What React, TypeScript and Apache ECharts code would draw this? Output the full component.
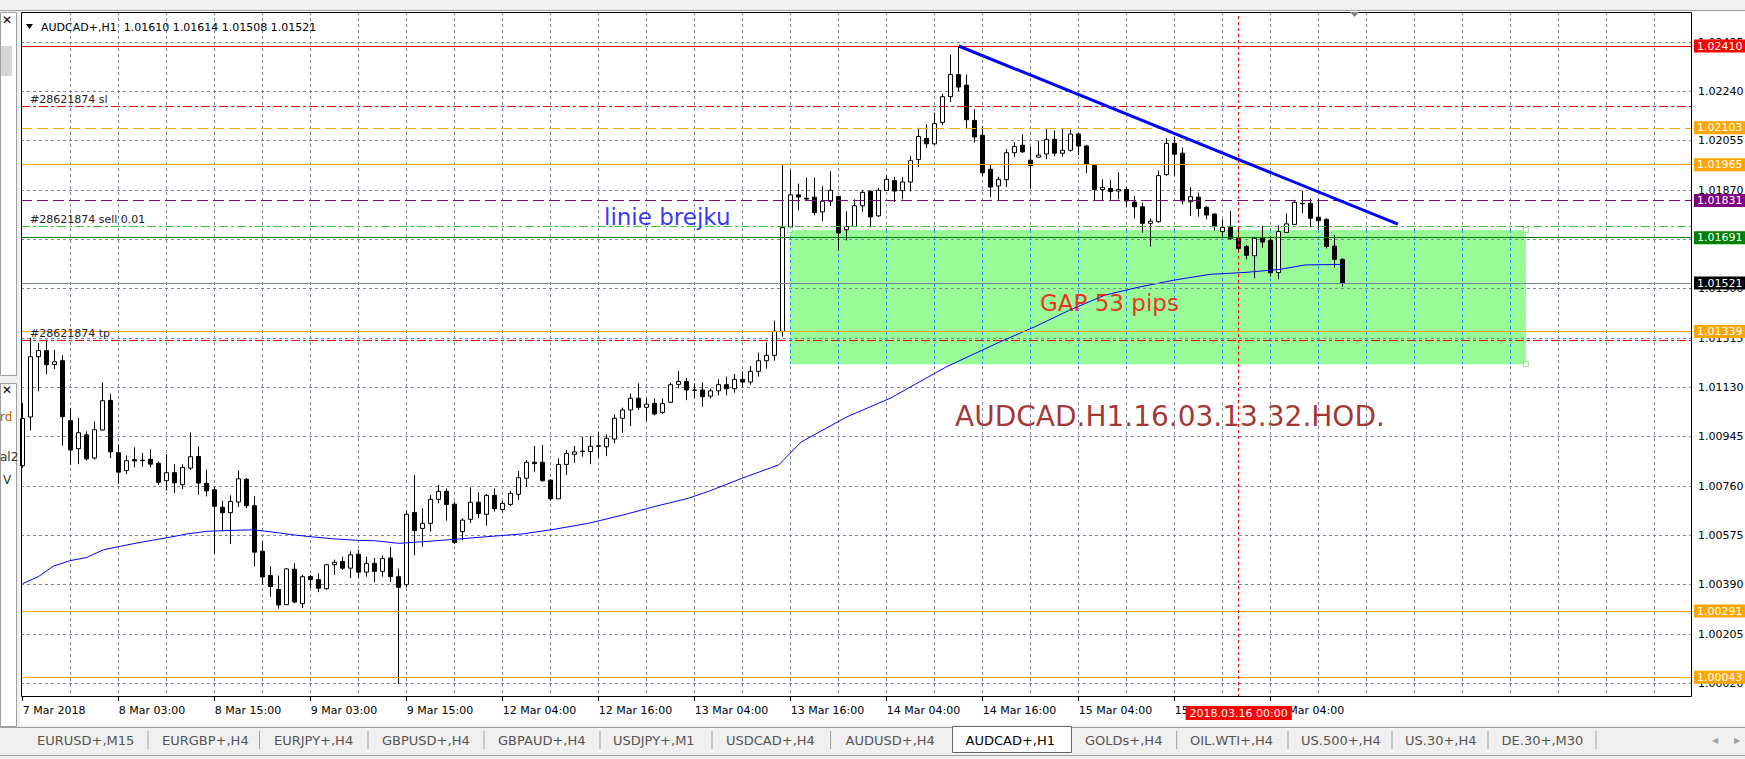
import React, { useEffect, useRef } from "react";
import * as echarts from "echarts";

const FONT = "DejaVu Sans";

// H1 bars [open, high, low, close], first visible bar = 7 Mar 2018 15:00
const barsMar7to9: number[][] = [
  [1.00836, 1.01071, 1.00828, 1.01013], [1.01019, 1.01315, 1.00968, 1.01245], [1.01245, 1.01296, 1.01115, 1.01268],
  [1.01268, 1.01309, 1.0118, 1.01215], [1.01216, 1.01271, 1.01199, 1.01226], [1.0123, 1.0125, 1.00911, 1.0102],
  [1.01005, 1.0105, 1.00839, 1.00895], [1.009, 1.01015, 1.00842, 1.0096], [1.00952, 1.00965, 1.00855, 1.00862],
  [1.00865, 1.01002, 1.00859, 1.00971], [1.0097, 1.01149, 1.00968, 1.0108], [1.01081, 1.01106, 1.00865, 1.00888],
  [1.00885, 1.00915, 1.00768, 1.00812], [1.00818, 1.00875, 1.00805, 1.00855], [1.00859, 1.00905, 1.0083, 1.00854],
  [1.00857, 1.00884, 1.00832, 1.00855], [1.0086, 1.00898, 1.0083, 1.00842], [1.00845, 1.00852, 1.00764, 1.00774],
  [1.0078, 1.0088, 1.00743, 1.0081], [1.0081, 1.00841, 1.00734, 1.00772], [1.00765, 1.00841, 1.00749, 1.0083],
  [1.00827, 1.00961, 1.0082, 1.0087], [1.00871, 1.00909, 1.00727, 1.00771], [1.0077, 1.00821, 1.00721, 1.00742],
  [1.00746, 1.00756, 1.00506, 1.00684], [1.0068, 1.00705, 1.0059, 1.0066], [1.0066, 1.00725, 1.00543, 1.00702],
  [1.007, 1.00819, 1.00681, 1.00787], [1.00785, 1.0079, 1.00677, 1.00686], [1.00686, 1.00721, 1.00459, 1.00512],
  [1.00515, 1.00552, 1.0039, 1.00419], [1.00424, 1.00459, 1.00345, 1.00383], [1.00372, 1.00424, 1.003, 1.00314],
  [1.00315, 1.00452, 1.00315, 1.00449], [1.00448, 1.0047, 1.0032, 1.00325], [1.00319, 1.00427, 1.00302, 1.0042],
  [1.00421, 1.00427, 1.00377, 1.00409], [1.00409, 1.00432, 1.00362, 1.00377], [1.00375, 1.00465, 1.00371, 1.00465],
  [1.00465, 1.00484, 1.00427, 1.00474], [1.00477, 1.00495, 1.00445, 1.00452], [1.00452, 1.00515, 1.00415, 1.00502],
  [1.00504, 1.00521, 1.00415, 1.00437], [1.00437, 1.00495, 1.0042, 1.0047], [1.0047, 1.0049, 1.004, 1.0044],
  [1.0044, 1.005, 1.0042, 1.00488], [1.0049, 1.00531, 1.004, 1.0042], [1.0042, 1.0045, 1.00018, 1.0038],
];
const barsMar9to13: number[][] = [
  [1.0039, 1.0067, 1.0038, 1.00654], [1.00661, 1.00801, 1.005, 1.00593], [1.00601, 1.00676, 1.00532, 1.0062],
  [1.0062, 1.00726, 1.00589, 1.0071], [1.0071, 1.00764, 1.00695, 1.0074], [1.0074, 1.00751, 1.0063, 1.00691],
  [1.00692, 1.00701, 1.00543, 1.00548], [1.00589, 1.00639, 1.00557, 1.00632], [1.00635, 1.00755, 1.00622, 1.00699],
  [1.00699, 1.00736, 1.00639, 1.00657], [1.00654, 1.0073, 1.00611, 1.00725], [1.00725, 1.00751, 1.00664, 1.00675],
  [1.00672, 1.00705, 1.0066, 1.00695], [1.00691, 1.00742, 1.00685, 1.00732], [1.00729, 1.00816, 1.00707, 1.00791],
  [1.00789, 1.00857, 1.00757, 1.00849], [1.00849, 1.0091, 1.00814, 1.00844], [1.00849, 1.00914, 1.00776, 1.0078],
  [1.00782, 1.00785, 1.00705, 1.00712], [1.00712, 1.00864, 1.00712, 1.00841], [1.00841, 1.00895, 1.00801, 1.00882],
  [1.00879, 1.0091, 1.00847, 1.00888], [1.00889, 1.00945, 1.0087, 1.00891], [1.00889, 1.00947, 1.00842, 1.00909],
  [1.00909, 1.00964, 1.00864, 1.00911], [1.00907, 1.00954, 1.00872, 1.00939], [1.00936, 1.01029, 1.0092, 1.01014],
  [1.01014, 1.01054, 1.0096, 1.01045], [1.01045, 1.01107, 1.00985, 1.01089], [1.01089, 1.01145, 1.01045, 1.01055],
  [1.01055, 1.01089, 1.01004, 1.01067], [1.0107, 1.01089, 1.01025, 1.0103], [1.01036, 1.01089, 1.0103, 1.01069],
  [1.01074, 1.01148, 1.01072, 1.0114], [1.01141, 1.01191, 1.01126, 1.01152], [1.01152, 1.01165, 1.01082, 1.0112],
  [1.0112, 1.01145, 1.01089, 1.01119], [1.0112, 1.01149, 1.01057, 1.01095], [1.01097, 1.01126, 1.01089, 1.01117],
  [1.01117, 1.0116, 1.011, 1.0114], [1.0114, 1.0117, 1.011, 1.01125], [1.01125, 1.0118, 1.0111, 1.0116],
  [1.0116, 1.0119, 1.0113, 1.0115], [1.0115, 1.0121, 1.0114, 1.0119], [1.0119, 1.0126, 1.0117, 1.0123],
  [1.0123, 1.013, 1.012, 1.0125], [1.0125, 1.0138, 1.0123, 1.0134], [1.0134, 1.01963, 1.0132, 1.01729],
];
const barsMar13to16: number[][] = [
  [1.01729, 1.01944, 1.01719, 1.01852], [1.01852, 1.01894, 1.01794, 1.01844], [1.01839, 1.01916, 1.01831, 1.01836],
  [1.01843, 1.01916, 1.01775, 1.01785], [1.01788, 1.01884, 1.01753, 1.01828], [1.01828, 1.0194, 1.0181, 1.01869],
  [1.01846, 1.01846, 1.01644, 1.01709], [1.01721, 1.0179, 1.01681, 1.01733], [1.01733, 1.01835, 1.01731, 1.01811],
  [1.01811, 1.01869, 1.01788, 1.01861], [1.01865, 1.01869, 1.0173, 1.01769], [1.01773, 1.01878, 1.01769, 1.01869],
  [1.01868, 1.01925, 1.01866, 1.0191], [1.01905, 1.01919, 1.01825, 1.01866], [1.01868, 1.01919, 1.01835, 1.019],
  [1.019, 1.01998, 1.01865, 1.0198], [1.01984, 1.02103, 1.01956, 1.02071], [1.02063, 1.02116, 1.02028, 1.02043],
  [1.02043, 1.0216, 1.0204, 1.02119], [1.02123, 1.02231, 1.02113, 1.0222], [1.0222, 1.02378, 1.022, 1.02303],
  [1.02303, 1.0241, 1.0224, 1.02256], [1.02263, 1.02303, 1.02098, 1.02133], [1.02131, 1.02173, 1.02048, 1.02069],
  [1.02075, 1.0211, 1.01923, 1.01935], [1.01948, 1.01963, 1.01844, 1.01881], [1.01885, 1.0192, 1.01831, 1.0191],
  [1.01909, 1.02023, 1.01881, 1.0201], [1.0201, 1.0205, 1.01994, 1.02033], [1.02038, 1.02079, 1.0201, 1.02013],
  [1.01982, 1.02032, 1.01876, 1.01962], [1.01993, 1.02055, 1.01993, 1.02001], [1.02005, 1.02098, 1.01986, 1.0206],
  [1.0206, 1.02093, 1.01997, 1.02008], [1.02008, 1.02102, 1.01995, 1.02019], [1.02019, 1.02095, 1.02014, 1.0208],
  [1.0208, 1.02085, 1.02001, 1.02035], [1.02035, 1.02039, 1.01933, 1.01967], [1.01963, 1.01963, 1.01833, 1.01872],
  [1.01872, 1.0191, 1.01833, 1.0188], [1.01876, 1.01907, 1.01833, 1.01864], [1.01866, 1.01936, 1.01835, 1.01872],
  [1.01872, 1.0188, 1.01805, 1.01829], [1.01825, 1.01848, 1.01763, 1.01807], [1.01807, 1.01823, 1.0171, 1.01745],
  [1.01745, 1.01764, 1.01658, 1.01753], [1.01751, 1.01943, 1.01748, 1.01924], [1.01928, 1.02064, 1.01923, 1.02045],
  [1.02045, 1.0207, 1.01923, 1.02004], [1.02008, 1.02029, 1.01816, 1.01829], [1.01826, 1.0188, 1.01773, 1.01845],
  [1.01843, 1.0186, 1.0177, 1.01801], [1.01805, 1.0181, 1.0176, 1.01776], [1.0178, 1.01782, 1.01718, 1.01735],
  [1.01714, 1.0176, 1.01695, 1.0173], [1.01733, 1.01792, 1.01683, 1.01688], [1.01689, 1.01726, 1.01639, 1.01651],
  [1.01658, 1.01664, 1.0161, 1.01625], [1.01623, 1.01695, 1.01539, 1.01689], [1.01691, 1.01735, 1.01654, 1.01675],
  [1.01681, 1.01697, 1.01545, 1.0156], [1.0156, 1.01739, 1.01535, 1.01714], [1.01711, 1.01782, 1.0171, 1.01743],
  [1.01741, 1.01833, 1.01739, 1.01824], [1.0182, 1.01867, 1.01783, 1.01818], [1.0182, 1.01839, 1.0173, 1.01764],
  [1.01768, 1.01839, 1.0172, 1.01755], [1.0176, 1.01764, 1.01651, 1.01658], [1.0166, 1.01701, 1.01579, 1.0161],
  [1.0161, 1.01614, 1.01508, 1.01521],
];

// moving average readings [bar, price]
const maPoints: number[][] = [
  [0, 1.00394], [2, 1.00421], [3.8, 1.00459], [5.9, 1.0048], [8, 1.00492], [10.1, 1.00521], [12.2, 1.00534],
  [14.25, 1.00546], [16.3, 1.00557], [18.4, 1.00568], [20.5, 1.0058], [23, 1.0059], [25.5, 1.00593], [28.8, 1.00596],
  [31.3, 1.00587], [33.8, 1.00577], [36.3, 1.00569], [38.8, 1.00562], [42, 1.00556], [44, 1.00555], [47, 1.00545],
  [50, 1.00551], [54, 1.0056], [58, 1.0057], [62.4, 1.0058], [66.5, 1.00598], [70.7, 1.0062], [75, 1.00651],
  [79, 1.00683], [83.2, 1.00714], [86, 1.00743], [90, 1.0079], [94.5, 1.00839], [97.3, 1.00925], [103, 1.01019],
  [108.5, 1.0109], [115.4, 1.01206], [122.2, 1.01301], [126.5, 1.01357], [130.9, 1.0142], [135.3, 1.01476],
  [139.7, 1.01507], [144.1, 1.01533], [148.5, 1.01554], [152.9, 1.01561], [157.3, 1.01573], [160.3, 1.01589],
  [164.9, 1.01591],
];

const trendPoints: number[][] = [[117, 1.0241], [171.9, 1.01742]];

const priceTicks = [1.0002, 1.00205, 1.0039, 1.00575, 1.0076, 1.00945, 1.0113, 1.01315, 1.015, 1.01685, 1.0187, 1.02055, 1.0224, 1.02425];

const timeTickBars = [0, 12, 24, 36, 48, 60, 72, 84, 96, 108, 120, 132, 144, 156];
const timeTickLabels = ["7 Mar 2018", "8 Mar 03:00", "8 Mar 15:00", "9 Mar 03:00", "9 Mar 15:00", "12 Mar 04:00", "12 Mar 16:00",
  "13 Mar 04:00", "13 Mar 16:00", "14 Mar 04:00", "14 Mar 16:00", "15 Mar 04:00", "15 Mar 16:00", "16 Mar 04:00"];

// horizontal objects
const hLinePrices = [1.0241, 1.02185, 1.02103, 1.01965, 1.01831, 1.01734, 1.01691, 1.01521, 1.01339, 1.01306, 1.00291, 1.00043];
const hLineKinds = ["red", "sl", "orangeDash", "orange", "purple", "sell", "green", "bid", "orange", "tp", "orange", "orange"];

const gapRect = { from: 95.9, to: 187.9, top: 1.0172, bottom: 1.01217 };
const markerBar = 152;
const markerLabel = "2018.03.16 00:00";

const texts = [
  { bar: 72.66, price: 1.01769, text: "linie brejku", kind: "blue" },
  { bar: 127.16, price: 1.01446, text: "GAP 53 pips", kind: "red" },
  { bar: 116.54, price: 1.01019, text: "AUDCAD.H1.16.03.13.32.HOD.", kind: "maroon" },
];

const tabNames = ["EURUSD+,M15", "EURGBP+,H4", "EURJPY+,H4", "GBPUSD+,H4", "GBPAUD+,H4", "USDJPY+,M1", "USDCAD+,H4",
  "AUDUSD+,H4", "AUDCAD+,H1", "GOLDs+,H4", "OIL.WTI+,H4", "US.500+,H4", "US.30+,H4", "DE.30+,M30"];
const activeTab = "AUDCAD+,H1";

const titleText = "AUDCAD+,H1  1.01610 1.01614 1.01508 1.01521";

export default function App() {
  const ref = useRef<HTMLDivElement>(null);
  useEffect(() => {
    const chart = echarts.init(ref.current!, null, { renderer: "svg" });
    const X_MIN = -0.2125, X_MAX = 208.66;
    const Y_MIN = 0.999688, Y_MAX = 1.025375;
    const bars = [...barsMar7to9, ...barsMar9to13, ...barsMar13to16];
    const candleData = bars.map((b, i) => [i, b[0], b[3], b[2], b[1]]);
    const nCats = 209;
    const cats: string[] = [];
    for (let i = 0; i < nCats; i++) {
      const k = timeTickBars.indexOf(i);
      cats.push(k >= 0 ? timeTickLabels[k] : "");
    }
    const gridStyle = { color: "#778899", width: 1, type: [3, 3] as any, opacity: 1 };

    const hGrid = priceTicks.map((v) => ({
      coords: [[X_MIN, v], [X_MAX, v]],
      label: { show: true, position: "end", distance: 6, formatter: v.toFixed(5), color: "#000", fontSize: 11, fontFamily: FONT },
    }));

    const blueGrid: any[] = [];
    for (let k = 6; k <= 204; k += 6) {
      if (k >= gapRect.from && k <= gapRect.to) {
        blueGrid.push({ coords: [[k, gapRect.top], [k, gapRect.bottom]] });
      }
    }

    const styleFor = (kind: string) => {
      const dashDot = [9, 3, 3, 3];
      const dash = [11, 5];
      switch (kind) {
        case "red": return { line: { color: "#ff0000", width: 1, type: "solid", opacity: 1 }, box: "#ff0000" };
        case "sl": return { line: { color: "#ff0000", width: 1, type: dashDot, opacity: 1 }, text: "#28621874 sl" };
        case "tp": return { line: { color: "#ff0000", width: 1, type: dashDot, opacity: 1 }, text: "#28621874 tp" };
        case "sell": return { line: { color: "#32cd32", width: 1, type: dashDot, opacity: 1 }, text: "#28621874 sell 0.01" };
        case "orangeDash": return { line: { color: "#ffa500", width: 1, type: dash, opacity: 1 }, box: "#ffa500" };
        case "orange": return { line: { color: "#ffa500", width: 1, type: "solid", opacity: 1 }, box: "#ffa500" };
        case "purple": return { line: { color: "#800080", width: 1, type: dash, opacity: 1 }, box: "#800080" };
        case "green": return { line: { color: "#008000", width: 1, type: "solid", opacity: 1 }, box: "#008000" };
        case "bid": return { line: { color: "#778899", width: 1, type: "solid", opacity: 1 }, box: "#000000" };
      }
      return { line: { color: "#000", width: 1, type: "solid", opacity: 1 } } as any;
    };

    const objLines: any[] = hLinePrices.map((p, i) => {
      const s: any = styleFor(hLineKinds[i]);
      const item: any = { coords: [[X_MIN, p], [X_MAX, p]], lineStyle: s.line };
      if (s.box) {
        item.label = {
          show: true, position: "end", distance: 2, formatter: p.toFixed(5), color: "#fff",
          backgroundColor: s.box, padding: [1, 12, 0, 3], fontSize: 11, lineHeight: 12, fontFamily: FONT,
        };
      } else if (s.text) {
        item.label = {
          show: true, position: "insideStartTop", distance: [9, 1], formatter: s.text, color: "#222",
          fontSize: 11, fontFamily: FONT,
        };
      } else {
        item.label = { show: false };
      }
      return item;
    });
    objLines.push({
      coords: [[markerBar, Y_MIN], [markerBar, Y_MAX]],
      lineStyle: { color: "#ff0000", width: 1, type: [3, 3], opacity: 1 },
      label: {
        show: true, position: "start", distance: 9, formatter: markerLabel, color: "#fff", backgroundColor: "#ff0000",
        padding: [2, 4, 1, 4], fontSize: 11, fontFamily: FONT,
      },
    });

    const textColors: any = { blue: "#0000ff", red: "#ff0000", maroon: "#8b0000" };
    const textSizes: any = { blue: 23, red: 23, maroon: 28 };

    // tabs graphic
    const tabStarts = [37, 162, 274, 382, 498, 613, 726, 845.6, 965.5, 1085, 1190, 1301, 1405, 1501.6];
    const tabSeps = [148, 259.5, 368, 484, 600, 712, 830.6, 1176.7, 1288, 1392, 1488, 1596];
    const graphics: any[] = [
      { type: "rect", shape: { x: 0, y: 0, width: 1745, height: 11 }, style: { fill: "#f0f0f0" }, z: 100 },
      { type: "line", shape: { x1: 0, y1: 10.5, x2: 1745, y2: 10.5 }, style: { stroke: "#a0a0a0", lineWidth: 1 }, z: 101 },
      { type: "rect", shape: { x: 0, y: 11, width: 20, height: 716 }, style: { fill: "#f0f0f0" }, z: 100 },
      { type: "rect", shape: { x: 0.5, y: 12.5, width: 16, height: 363 }, style: { fill: "#ffffff", stroke: "#a0a0a0" }, z: 101 },
      { type: "text", style: { text: "✕", x: 2, y: 20, fill: "#000", fontSize: 12, fontFamily: FONT, verticalAlign: "middle" }, z: 102 },
      { type: "rect", shape: { x: 1, y: 46, width: 11, height: 30 }, style: { fill: "#d6d6d6" }, z: 102 },
      { type: "rect", shape: { x: 0.5, y: 383.5, width: 16, height: 343 }, style: { fill: "#ffffff", stroke: "#a0a0a0" }, z: 101 },
      { type: "text", style: { text: "✕", x: 2, y: 390, fill: "#000", fontSize: 12, fontFamily: FONT, verticalAlign: "middle" }, z: 102 },
      { type: "text", style: { text: "rd", x: 0, y: 417, fill: "#c06000", fontSize: 12, fontFamily: FONT, verticalAlign: "middle" }, z: 102 },
      { type: "text", style: { text: "al2", x: 0, y: 457, fill: "#333", fontSize: 12, fontFamily: FONT, verticalAlign: "middle" }, z: 102 },
      { type: "text", style: { text: "V", x: 3, y: 480, fill: "#333", fontSize: 12, fontFamily: FONT, verticalAlign: "middle" }, z: 102 },
      // frame
      { type: "rect", shape: { x: 21.5, y: 12.5, width: 1670, height: 684 }, style: { fill: "none", stroke: "#000", lineWidth: 1 }, z: 99 },
      // chart shift marker
      { type: "polygon", shape: { points: [[1350, 12], [1359, 12], [1354.5, 17]] }, style: { fill: "#808080" }, z: 99 },
      // title
      { type: "polygon", shape: { points: [[26, 24], [33, 24], [29.5, 29]] }, style: { fill: "#000" }, z: 99 },
      { type: "text", style: { text: titleText, x: 41, y: 27, fill: "#000", fontSize: 11, fontFamily: FONT, verticalAlign: "middle" }, z: 99 },
      // tab strip
      { type: "rect", shape: { x: 0, y: 725, width: 1745, height: 34 }, style: { fill: "#f0f0f0" }, z: 100 },
      { type: "line", shape: { x1: 0, y1: 727.5, x2: 1745, y2: 727.5 }, style: { stroke: "#a0a0a0" }, z: 101 },
      { type: "line", shape: { x1: 0, y1: 755.5, x2: 1745, y2: 755.5 }, style: { stroke: "#a0a0a0" }, z: 101 },
      { type: "rect", shape: { x: 952.5, y: 726.5, width: 119, height: 26 }, style: { fill: "#ffffff", stroke: "#666" }, z: 101 },
      { type: "text", style: { text: "◀", x: 1712, y: 740, fill: "#a0a0a0", fontSize: 8, fontFamily: FONT, verticalAlign: "middle" }, z: 102 },
      { type: "text", style: { text: "▶", x: 1734, y: 740, fill: "#a0a0a0", fontSize: 8, fontFamily: FONT, verticalAlign: "middle" }, z: 102 },
    ];
    tabSeps.forEach((x) => graphics.push({ type: "line", shape: { x1: x, y1: 731, x2: x, y2: 749 }, style: { stroke: "#a0a0a0" }, z: 101 }));
    tabNames.forEach((t, i) => graphics.push({
      type: "text",
      style: { text: t, x: tabStarts[i], y: 740, fill: t === activeTab ? "#000" : "#555", fontSize: 13, fontFamily: FONT, verticalAlign: "middle" },
      z: 103,
    }));

    const option: any = {
      animation: false,
      backgroundColor: "#ffffff",
      grid: [
        { left: 21, top: 12, width: 1671, height: 685, show: false },
        { left: 22.7, top: 12, width: 1664, height: 685, show: false },
      ],
      xAxis: [
        { type: "value", gridIndex: 0, min: X_MIN, max: X_MAX, show: false },
        {
          type: "category", gridIndex: 1, data: cats, boundaryGap: false,
          axisLine: { show: false },
          axisTick: { show: true, length: 4, interval: (i: number) => timeTickBars.indexOf(i) >= 0, lineStyle: { color: "#000" } },
          axisLabel: { interval: 0, align: "left", margin: 8, color: "#000", fontSize: 11, fontFamily: FONT },
          splitLine: { show: true, interval: (i: number) => i % 6 === 0 && i > 0, lineStyle: gridStyle },
        },
      ],
      yAxis: [
        { type: "value", gridIndex: 0, min: Y_MIN, max: Y_MAX, show: false, scale: true },
        { type: "value", gridIndex: 1, min: 0, max: 1, show: false },
      ],
      series: [
        {
          type: "line", name: "gap", data: [], xAxisIndex: 0, yAxisIndex: 0,
          markArea: { silent: true, itemStyle: { color: "#98fb98", opacity: 1 }, data: [[{ coord: [gapRect.from, gapRect.top] }, { coord: [gapRect.to, gapRect.bottom] }]] },
        },
        { type: "lines", name: "hgrid", coordinateSystem: "cartesian2d", xAxisIndex: 0, yAxisIndex: 0, z: 2, silent: true, clip: false, lineStyle: gridStyle, data: hGrid },
        { type: "lines", name: "bluegrid", coordinateSystem: "cartesian2d", xAxisIndex: 0, yAxisIndex: 0, z: 2, silent: true, clip: false, lineStyle: { color: "#1e90ff", width: 1, type: [3, 3], opacity: 1 }, data: blueGrid },
        {
          type: "candlestick", name: "AUDCAD", xAxisIndex: 0, yAxisIndex: 0, z: 3, data: candleData,
          encode: { x: 0, y: [1, 2, 3, 4] }, barWidth: 5,
          itemStyle: { color: "#ffffff", color0: "#000000", borderColor: "#000000", borderColor0: "#000000", borderWidth: 1 },
        },
        { type: "line", name: "MA", xAxisIndex: 0, yAxisIndex: 0, z: 4, data: maPoints, symbol: "none", lineStyle: { color: "#0000ff", width: 1 } },
        { type: "lines", name: "objects", coordinateSystem: "cartesian2d", xAxisIndex: 0, yAxisIndex: 0, z: 5, silent: true, clip: false, data: objLines },
        { type: "line", name: "trend", xAxisIndex: 0, yAxisIndex: 0, z: 6, data: trendPoints, symbol: "none", lineStyle: { color: "#0000ff", width: 3 } },
        {
          type: "scatter", name: "handles", xAxisIndex: 0, yAxisIndex: 0, z: 6, symbol: "rect", symbolSize: 5,
          itemStyle: { color: "#ffffff", borderColor: "#7ee07e", borderWidth: 1 },
          data: [[gapRect.from, gapRect.top], [gapRect.to, gapRect.top], [gapRect.to, gapRect.bottom]],
        },
        {
          type: "scatter", name: "texts", xAxisIndex: 0, yAxisIndex: 0, z: 7, symbolSize: 0, silent: true,
          data: texts.map((t) => ({
            value: [t.bar, t.price],
            label: { show: true, position: "right", distance: 0, formatter: t.text, color: textColors[t.kind], fontSize: textSizes[t.kind], fontFamily: FONT },
          })),
        },
      ],
      graphic: graphics,
    };
    chart.setOption(option);
    return () => chart.dispose();
  }, []);
  return <div ref={ref} style={{ position: "fixed", left: 0, top: 0, width: 1745, height: 759, background: "#fff" }} />;
}
